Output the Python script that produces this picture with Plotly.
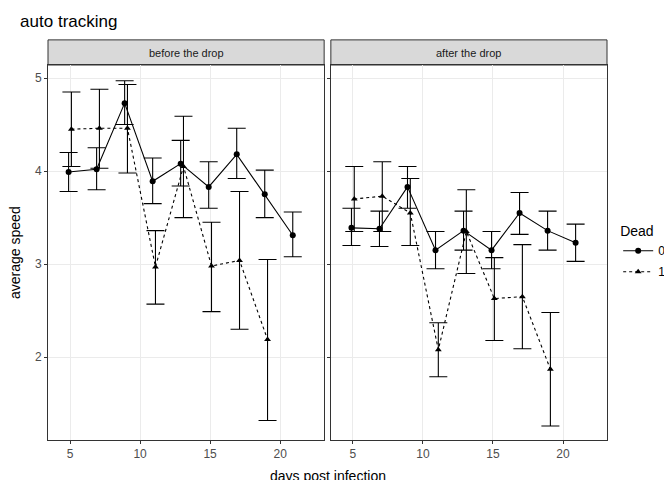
import plotly.graph_objects as go
from plotly.subplots import make_subplots

days = [5, 7, 9, 11, 13, 15, 17, 19, 21]
days1 = [5, 7, 9, 11, 13, 15, 17, 19]

# before the drop
b0 = [3.99, 4.02, 4.73, 3.89, 4.08, 3.83, 4.18, 3.75, 3.31]
b0_lo = [3.78, 3.80, 4.50, 3.65, 3.84, 3.60, 3.92, 3.50, 3.08]
b0_hi = [4.20, 4.25, 4.97, 4.14, 4.33, 4.10, 4.46, 4.01, 3.56]
b1 = [4.45, 4.46, 4.46, 2.97, 4.05, 2.98, 3.04, 2.19]
b1_lo = [4.05, 4.03, 3.98, 2.57, 3.50, 2.49, 2.30, 1.32]
b1_hi = [4.85, 4.88, 4.93, 3.36, 4.59, 3.45, 3.78, 3.05]

# after the drop
a0 = [3.39, 3.38, 3.83, 3.15, 3.36, 3.15, 3.55, 3.36, 3.23]
a0_lo = [3.20, 3.19, 3.60, 2.95, 3.15, 2.95, 3.32, 3.15, 3.03]
a0_hi = [3.60, 3.57, 4.05, 3.35, 3.57, 3.35, 3.77, 3.57, 3.43]
a1 = [3.70, 3.73, 3.55, 2.08, 3.35, 2.63, 2.65, 1.87]
a1_lo = [3.35, 3.35, 3.20, 1.79, 2.90, 2.18, 2.09, 1.26]
a1_hi = [4.05, 4.10, 3.92, 2.37, 3.80, 3.07, 3.21, 2.48]

fig = make_subplots(rows=1, cols=2, shared_yaxes=True, horizontal_spacing=0.012,
                    subplot_titles=["before the drop", "after the drop"])

def add(col, x, y, lo, hi, dash, symbol, name, show, shift):
    fig.add_trace(go.Scatter(
        x=[d + shift for d in x], y=y, mode="lines+markers", name=name,
        legendgroup=name, showlegend=show,
        line=dict(color="black", width=1.1, dash=dash),
        marker=dict(symbol=symbol, size=6, color="black"),
        error_y=dict(type="data", symmetric=False,
                     array=[h - v for h, v in zip(hi, y)],
                     arrayminus=[v - l for l, v in zip(lo, y)],
                     color="black", thickness=1.1, width=9),
    ), row=1, col=col)

add(1, days, b0, b0_lo, b0_hi, "solid", "circle", "0", True, -0.1)
add(1, days1, b1, b1_lo, b1_hi, "dot", "triangle-up", "1", True, 0.1)
add(2, days, a0, a0_lo, a0_hi, "solid", "circle", "0", False, -0.1)
add(2, days1, a1, a1_lo, a1_hi, "dot", "triangle-up", "1", False, 0.1)

axis = dict(showline=True, mirror=True, linecolor="#333333", linewidth=1,
            gridcolor="#ebebeb", ticks="outside", ticklen=3, tickcolor="#333333",
            tickfont=dict(color="#4d4d4d", size=12), zeroline=False, automargin=False)
for c in (1, 2):
    fig.update_xaxes(range=[3.43, 23.14], tickvals=[5, 10, 15, 20], row=1, col=c, **axis)
    fig.update_yaxes(range=[1.11, 5.14], tickvals=[2, 3, 4, 5], row=1, col=c, **axis)

for i, ann in enumerate(fig.layout.annotations):
    ann.update(y=1.0, yanchor="bottom", yshift=4, font=dict(size=11, color="#1a1a1a"))
    xd = fig.layout["xaxis" if i == 0 else "xaxis2"].domain
    fig.add_shape(type="rect", xref="paper", yref="paper", x0=xd[0], x1=xd[1],
                  y0=1.0, y1=1.067, fillcolor="#d9d9d9", line=dict(color="#333333", width=1),
                  layer="below")

fig.add_annotation(text="days post infection", xref="paper", yref="paper", x=0.5, y=-0.068,
                   yanchor="top", showarrow=False, font=dict(size=14, color="black"))
fig.add_annotation(text="average speed", xref="paper", yref="paper", x=-0.06, y=0.5,
                   xanchor="center", textangle=-90, showarrow=False,
                   font=dict(size=14, color="black"))

fig.update_layout(
    width=672, height=480, plot_bgcolor="white", paper_bgcolor="white",
    font=dict(family="Liberation Sans, Arial", color="black"),
    title=dict(text="auto tracking", x=0.018, y=0.985, yanchor="top", font=dict(size=17)),
    margin=dict(l=40, r=73, t=57, b=48, autoexpand=False),
    legend=dict(title=dict(text="Dead", font=dict(size=14)), x=1.02, y=0.5, yanchor="middle",
                font=dict(size=12), tracegroupgap=2),
)

fig.write_html("out.html")
